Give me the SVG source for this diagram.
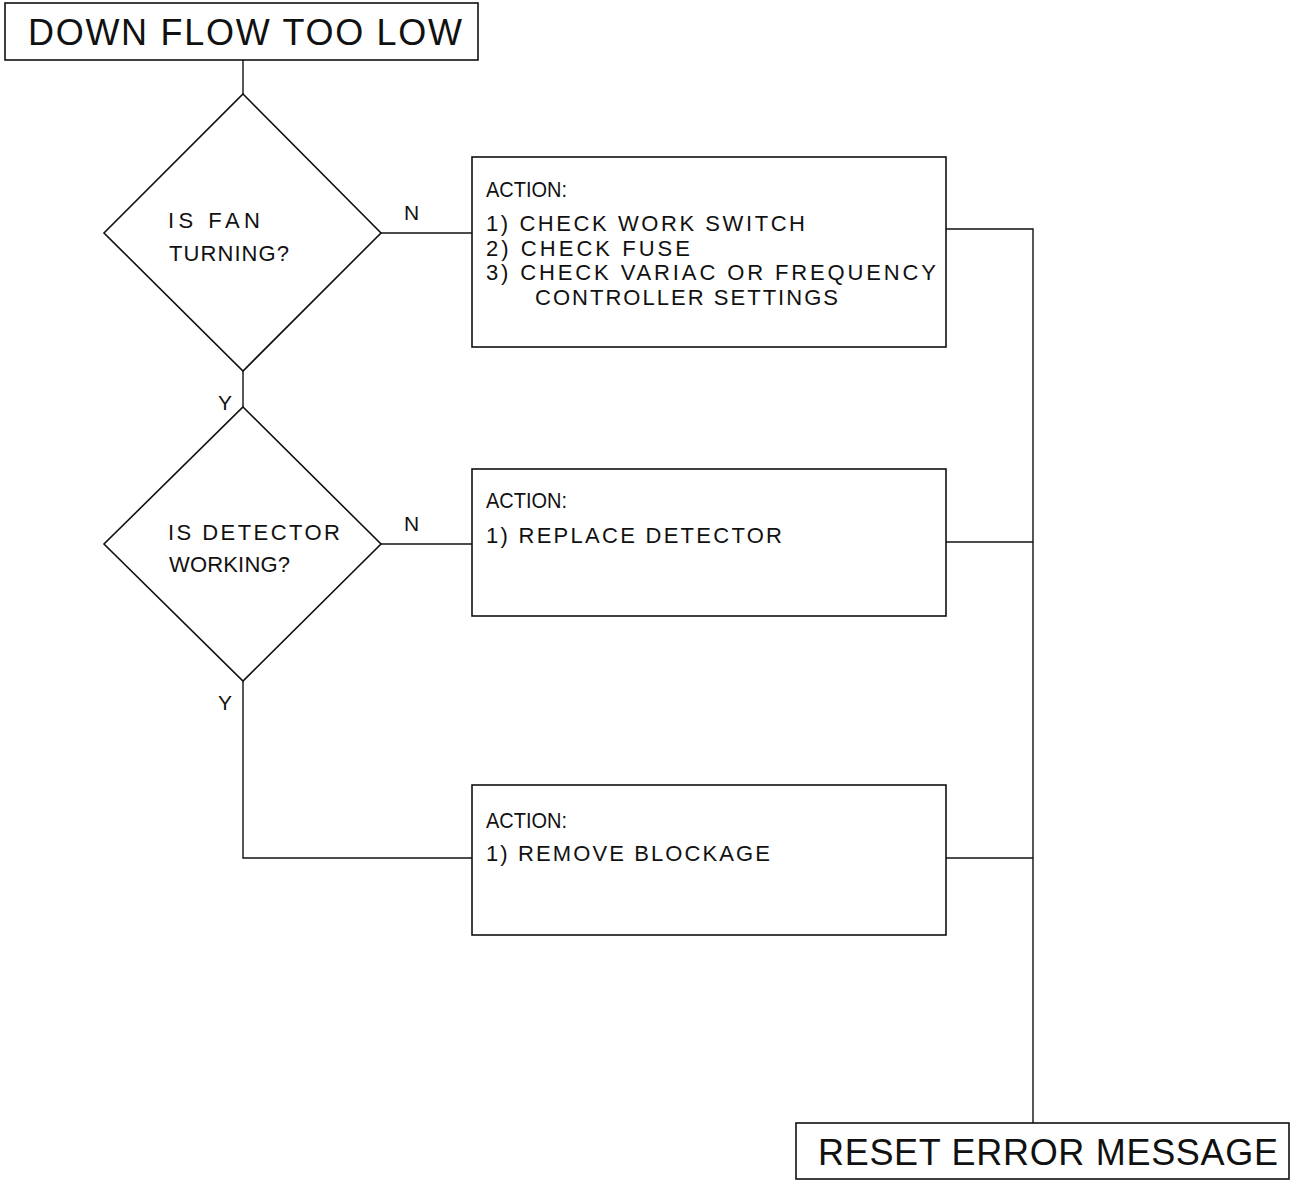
<svg xmlns="http://www.w3.org/2000/svg" width="1295" height="1180" viewBox="0 0 1295 1180">
<style>
.shape{fill:#fff;stroke:#111;stroke-width:1.6}
.conn{fill:none;stroke:#111;stroke-width:1.4}
text{font-family:"Liberation Sans","DejaVu Sans",sans-serif;fill:#111;font-weight:normal}
.big{font-size:36px}
.mid{font-size:22px}
.lbl{font-size:21px}
</style>
<rect width="1295" height="1180" fill="#fff"/>
<g id="connectors">
<line class="conn" x1="243" y1="60" x2="243" y2="94"/>
<line class="conn" x1="381" y1="233" x2="472" y2="233"/>
<line class="conn" x1="243" y1="371" x2="243" y2="407"/>
<line class="conn" x1="381" y1="544" x2="472" y2="544"/>
<polyline class="conn" points="243,681 243,858 472,858"/>
<polyline class="conn" points="946,229 1033,229 1033,1123"/>
<line class="conn" x1="946" y1="542" x2="1033" y2="542"/>
<line class="conn" x1="946" y1="858" x2="1033" y2="858"/>
<text class="lbl" x="404" y="220">N</text>
<text class="lbl" x="404" y="531">N</text>
<text class="lbl" x="218" y="410">Y</text>
<text class="lbl" x="218" y="710">Y</text>
</g>
<g id="start">
<rect class="shape" x="5" y="3" width="473" height="57"/>
<text class="big" x="28" y="45" textLength="434" lengthAdjust="spacing">DOWN FLOW TOO LOW</text>
</g>
<g id="decision1">
<polygon class="shape" points="243,94 381,233 243,371 104,233"/>
<text class="mid" x="168" y="228" textLength="92" lengthAdjust="spacing">IS FAN</text>
<text class="mid" x="169" y="261" textLength="120" lengthAdjust="spacing">TURNING?</text>
</g>
<g id="action1">
<rect class="shape" x="472" y="157" width="474" height="190"/>
<text class="mid" x="486" y="197" textLength="81" lengthAdjust="spacingAndGlyphs">ACTION:</text>
<text class="mid" x="486" y="231" textLength="319" lengthAdjust="spacing">1) CHECK WORK SWITCH</text>
<text class="mid" x="486" y="256" textLength="204" lengthAdjust="spacing">2) CHECK FUSE</text>
<text class="mid" x="486" y="280" textLength="450" lengthAdjust="spacing">3) CHECK VARIAC OR FREQUENCY</text>
<text class="mid" x="535" y="305" textLength="303" lengthAdjust="spacing">CONTROLLER SETTINGS</text>
</g>
<g id="decision2">
<polygon class="shape" points="243,407 381,544 243,681 104,544"/>
<text class="mid" x="168" y="540" textLength="172" lengthAdjust="spacing">IS DETECTOR</text>
<text class="mid" x="169" y="572" textLength="121" lengthAdjust="spacing">WORKING?</text>
</g>
<g id="action2">
<rect class="shape" x="472" y="469" width="474" height="147"/>
<text class="mid" x="486" y="508" textLength="81" lengthAdjust="spacingAndGlyphs">ACTION:</text>
<text class="mid" x="486" y="543" textLength="296" lengthAdjust="spacing">1) REPLACE DETECTOR</text>
</g>
<g id="action3">
<rect class="shape" x="472" y="785" width="474" height="150"/>
<text class="mid" x="486" y="828" textLength="81" lengthAdjust="spacingAndGlyphs">ACTION:</text>
<text class="mid" x="486" y="861" textLength="284" lengthAdjust="spacing">1) REMOVE BLOCKAGE</text>
</g>
<g id="end">
<rect class="shape" x="796" y="1123" width="493" height="56"/>
<text class="big" x="818" y="1165" textLength="460" lengthAdjust="spacing">RESET ERROR MESSAGE</text>
</g>
</svg>
